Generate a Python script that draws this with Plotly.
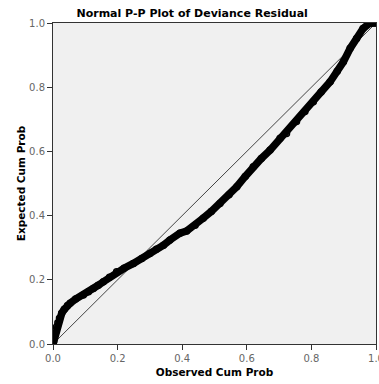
import plotly.graph_objects as go

# Observed cumulative probability vs expected cumulative probability
observed = [0.000, 0.002, 0.004, 0.006, 0.008, 0.011, 0.015, 0.020, 0.027, 0.035,
            0.045, 0.053, 0.070, 0.094, 0.110, 0.125, 0.140, 0.156, 0.175, 0.197,
            0.220, 0.249, 0.275, 0.300, 0.320, 0.342, 0.362, 0.393, 0.414, 0.440,
            0.465, 0.490, 0.517, 0.545, 0.569, 0.595, 0.620, 0.645, 0.672, 0.703,
            0.723, 0.754, 0.780, 0.806, 0.830, 0.858, 0.880, 0.899, 0.920, 0.940,
            0.960, 0.980, 0.990, 1.000]
expected = [0.000, 0.008, 0.020, 0.030, 0.042, 0.054, 0.066, 0.080, 0.096, 0.108,
            0.120, 0.127, 0.140, 0.153, 0.163, 0.173, 0.183, 0.194, 0.208, 0.225,
            0.236, 0.251, 0.266, 0.282, 0.295, 0.308, 0.324, 0.345, 0.352, 0.370,
            0.392, 0.413, 0.438, 0.465, 0.490, 0.522, 0.552, 0.578, 0.604, 0.641,
            0.656, 0.693, 0.724, 0.755, 0.785, 0.817, 0.850, 0.879, 0.921, 0.952,
            0.983, 0.999, 1.000, 1.000]

ref_line = [0.0, 1.0]
tick_vals = [0.0, 0.2, 0.4, 0.6, 0.8, 1.0]
tick_text = ["0.0", "0.2", "0.4", "0.6", "0.8", "1.0"]

font_family = "DejaVu Sans"

fig = go.Figure()
fig.add_trace(go.Scatter(
    x=ref_line, y=ref_line, mode="lines",
    line=dict(color="#444444", width=1), hoverinfo="skip", showlegend=False))
fig.add_trace(go.Scatter(
    x=observed, y=expected, mode="lines",
    line=dict(color="black", width=7.5), showlegend=False))
fig.add_trace(go.Scatter(
    x=observed, y=expected, mode="markers",
    marker=dict(symbol="circle-open", size=6, color="black", line=dict(width=1.5)),
    showlegend=False))

axis_common = dict(
    range=[0, 1], tickvals=tick_vals, ticktext=tick_text,
    showgrid=False, zeroline=False, showline=True, linecolor="#333333",
    linewidth=1, mirror=True, ticks="outside", ticklen=5, tickcolor="#333333",
    ticklabeloverflow="allow", automargin=False,
    tickfont=dict(family=font_family, size=10, color="#666666"),
)
fig.update_xaxes(**axis_common,
                 title=dict(text="<b>Observed Cum Prob</b>", standoff=5,
                            font=dict(family=font_family, size=10.5, color="black")))
fig.update_yaxes(**axis_common,
                 title=dict(text="<b>Expected Cum Prob</b>", standoff=1,
                            font=dict(family=font_family, size=10.5, color="black")))

fig.update_layout(
    width=379, height=384,
    margin=dict(l=53, r=3, t=23, b=40, autoexpand=False),
    paper_bgcolor="white", plot_bgcolor="#f0f0f0",
    title=dict(text="<b>Normal P-P Plot of Deviance Residual</b>",
               font=dict(family=font_family, size=11, color="black"),
               x=0.507, xanchor="center", xref="container", y=0.965, yanchor="middle"),
    showlegend=False,
)

fig.write_html("out.html")
